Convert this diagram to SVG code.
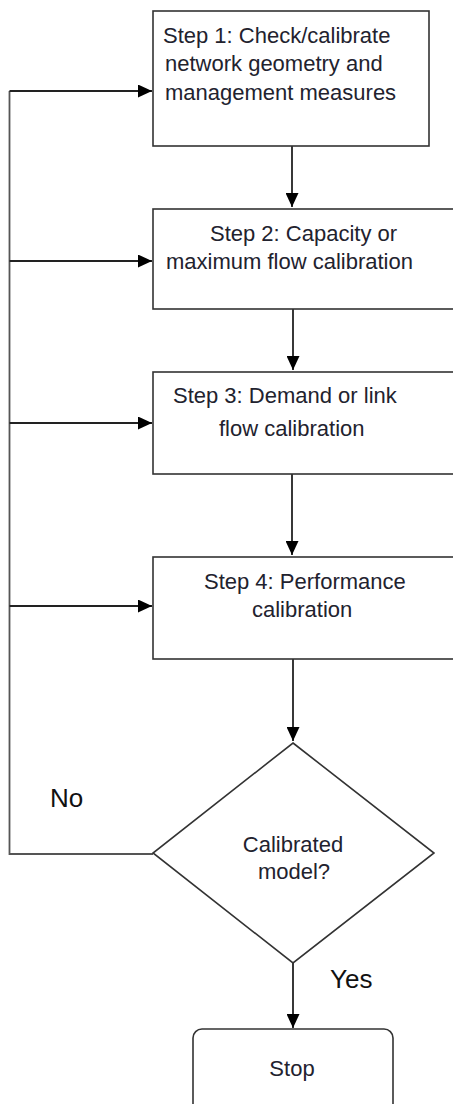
<svg xmlns="http://www.w3.org/2000/svg" width="453" height="1104" viewBox="0 0 453 1104">
<style>
.box{fill:#fff;stroke:#333;stroke-width:1.6}
.t{font-family:"Liberation Sans",Arial,sans-serif;font-size:22px;fill:#22222e}
.lbl{font-family:"Liberation Sans",Arial,sans-serif;font-size:26px;fill:#111}
.c{fill:none;stroke:#222;stroke-width:1.8}
.g{fill:none;stroke:#555;stroke-width:1.8}
</style>
<defs>
<marker id="ah" viewBox="0 0 14 13" refX="14" refY="6.5" markerWidth="14" markerHeight="13" markerUnits="userSpaceOnUse" orient="auto">
<path d="M0,0 L14,6.5 L0,13 Z" fill="#000"/>
</marker>
</defs>
<rect width="453" height="1104" fill="#fff"/>
<g id="connectors">
<path class="g" d="M9.5,91 V854 H153"/>
<line class="c" x1="9.5" y1="91" x2="152" y2="91" marker-end="url(#ah)"/>
<line class="c" x1="9.5" y1="261" x2="152" y2="261" marker-end="url(#ah)"/>
<line class="c" x1="9.5" y1="423" x2="152" y2="423" marker-end="url(#ah)"/>
<line class="c" x1="9.5" y1="606" x2="152" y2="606" marker-end="url(#ah)"/>
<line class="c" x1="292" y1="146" x2="292" y2="207" marker-end="url(#ah)"/>
<line class="c" x1="293" y1="309" x2="293" y2="370" marker-end="url(#ah)"/>
<line class="c" x1="292" y1="474" x2="292" y2="555" marker-end="url(#ah)"/>
<line class="c" x1="293" y1="659" x2="293" y2="741" marker-end="url(#ah)"/>
<line class="c" x1="293" y1="963" x2="293" y2="1028" marker-end="url(#ah)"/>
<text class="lbl" x="50" y="807">No</text>
<text class="lbl" x="330" y="988">Yes</text>
</g>
<g id="step1">
<rect class="box" x="153" y="11" width="276" height="135"/>
<text class="t" x="163" y="43">Step 1: Check/calibrate</text>
<text class="t" x="165" y="71">network geometry and</text>
<text class="t" x="165" y="100">management measures</text>
</g>
<g id="step2">
<rect class="box" x="153" y="209" width="400" height="100"/>
<text class="t" x="210" y="241">Step 2: Capacity or</text>
<text class="t" x="166" y="269">maximum flow calibration</text>
</g>
<g id="step3">
<rect class="box" x="153" y="372" width="400" height="102"/>
<text class="t" x="173" y="403">Step 3: Demand or link</text>
<text class="t" x="219" y="436">flow calibration</text>
</g>
<g id="step4">
<rect class="box" x="153" y="557" width="400" height="102"/>
<text class="t" x="204" y="589">Step 4: Performance</text>
<text class="t" x="252" y="617">calibration</text>
</g>
<g id="decision">
<polygon class="box" points="293,743 434,853 293,963 153,853"/>
<text class="t" x="293" y="852" text-anchor="middle">Calibrated</text>
<text class="t" x="294" y="879" text-anchor="middle">model?</text>
</g>
<g id="stop">
<rect class="box" x="193" y="1029" width="200" height="100" rx="9"/>
<text class="t" x="292" y="1076" text-anchor="middle">Stop</text>
</g>
</svg>
